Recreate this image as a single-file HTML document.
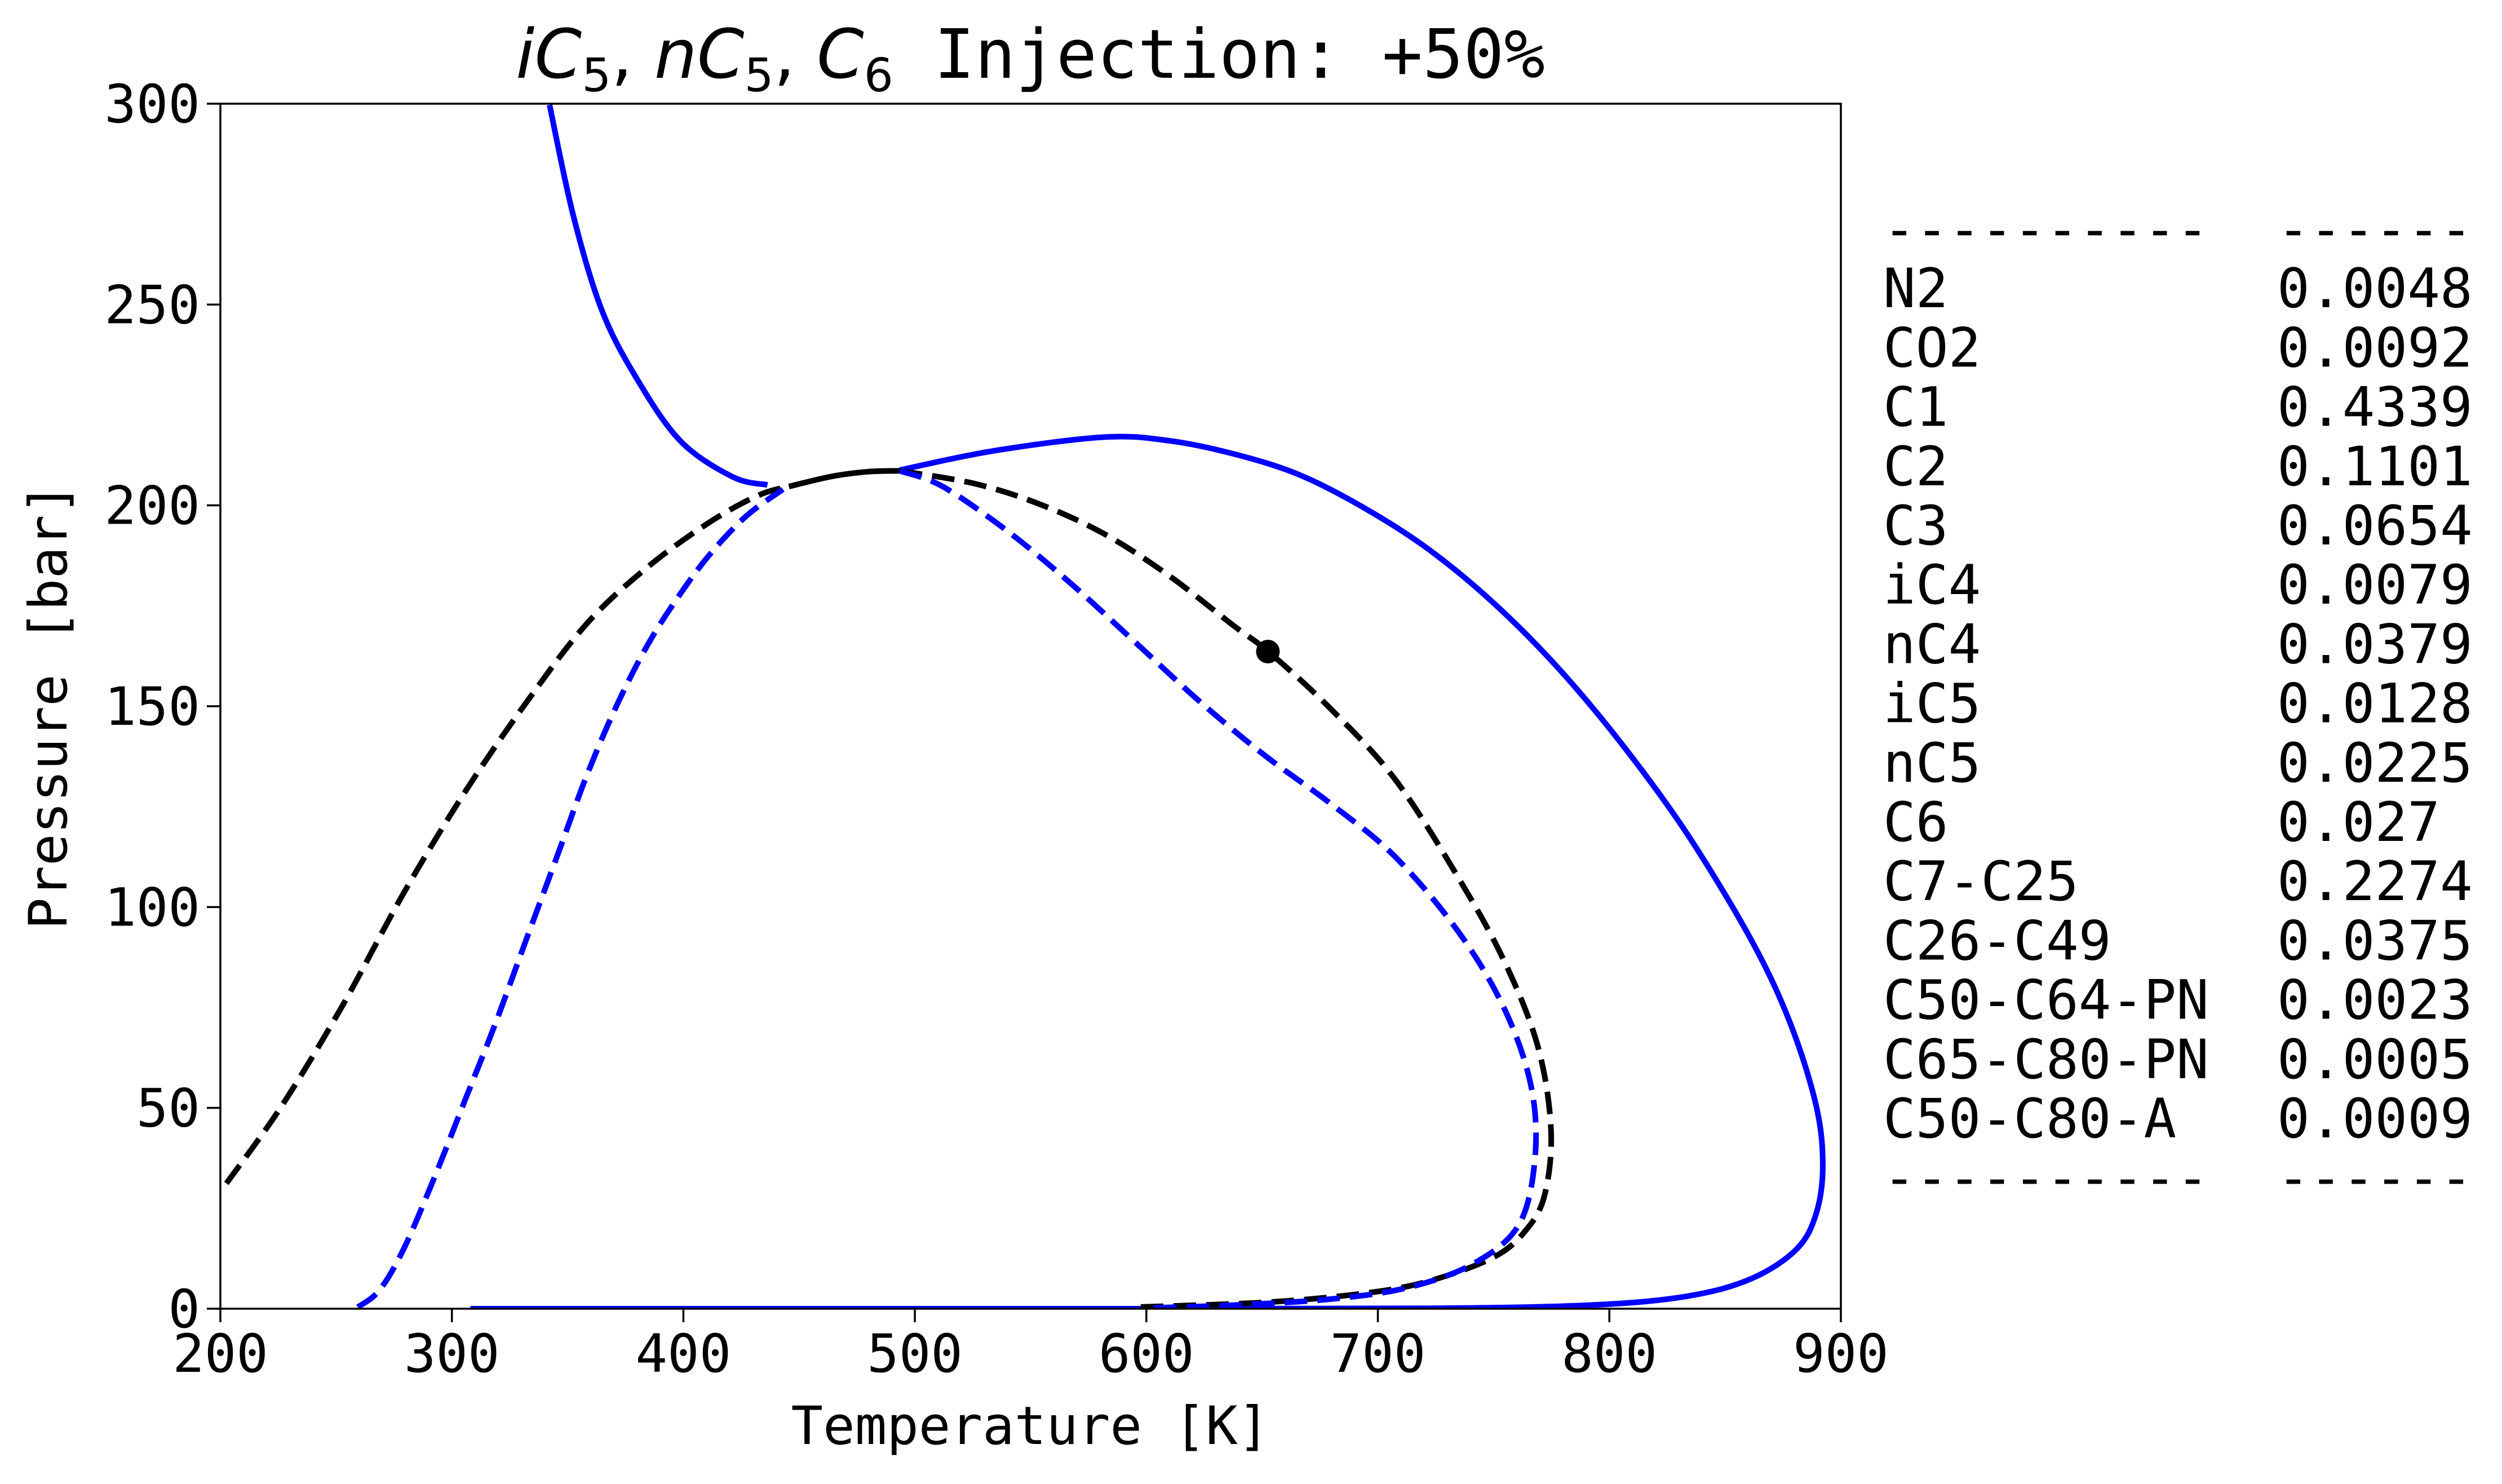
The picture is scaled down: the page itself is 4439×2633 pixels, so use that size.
<!DOCTYPE html>
<html><head><meta charset="utf-8"><style>
html,body{margin:0;padding:0;background:#fff;}
svg{display:block;}
text{font-family:"DejaVu Sans Mono","Liberation Mono",monospace;fill:#000;}
</style></head><body>
<svg id="chart" width="4439" height="2633" viewBox="0 0 4439 2633" xmlns="http://www.w3.org/2000/svg">
<g id="plot"></g>
<g id="axes"></g>
<text x="1828" y="138" font-size="120" text-anchor="middle"><tspan font-style="italic" font-family="DejaVu Sans, sans-serif">iC</tspan><tspan font-size="82" dy="24" font-family="DejaVu Sans, sans-serif">5</tspan><tspan dy="-24" font-family="DejaVu Sans, sans-serif">, </tspan><tspan font-style="italic" font-family="DejaVu Sans, sans-serif">nC</tspan><tspan font-size="82" dy="24" font-family="DejaVu Sans, sans-serif">5</tspan><tspan dy="-24" font-family="DejaVu Sans, sans-serif">, </tspan><tspan font-style="italic" font-family="DejaVu Sans, sans-serif">C</tspan><tspan font-size="82" dy="24" font-family="DejaVu Sans, sans-serif">6</tspan><tspan dy="-24"> Injection: +50%</tspan></text>
<text x="1828" y="2562" font-size="94" text-anchor="middle">Temperature [K]</text>
<text transform="translate(118,1253) rotate(-90)" font-size="94" text-anchor="middle">Pressure [bar]</text>
<g id="table"></g>
</svg>
<script>
const xTicks=[200,300,400,500,600,700,800,900];
const yTicks=[0,50,100,150,200,250,300];
const blueSolidUpperT=[342.2,352.3,364.5,379.1,398.6,421.3,436.3];
const blueSolidUpperP=[299.7,272.5,249,232.3,216.1,207.1,205.1];
const blueSolidMainT=[493.5,534.3,581.8,609.8,637.8,665.7,693.7,721.6,749.6,777.6,805.5,833.5,861.4,878.2,889.4,892.2,889.4,881,861.4,833.5,791.5,721.6,600,470,308];
const blueSolidMainP=[208.8,213.6,217,216.1,212.8,207.7,199.5,189.2,175.9,159.7,140.5,118.3,91.7,71,50.4,35.6,23.8,14.9,7.5,3.1,0.9,0.1,0,0,0];
const blackDashLeftT=[202.6,226.4,252.8,279.2,305.6,332,358.5,384.9,411.3,432.4,445.6];
const blackDashLeftP=[31.2,50.4,75.5,103.5,128.6,150.8,170.7,184.8,195.8,202.5,204.7];
const blackSolidTopT=[445.6,464,480,493.5];
const blackSolidTopP=[204.7,207.2,208.4,208.6];
const blackDashRightT=[493.5,525.9,553.9,581.8,609.8,637.8,653.1,679.7,707.7,735.6,755.2,769.2,774.8,772,763.6,749.6,721.6,693.7,651.7,595.8];
const blackDashRightP=[208.6,205.4,200.3,192.9,182.5,170,163.4,149.3,131.6,106.5,85.8,65.1,44.5,28.2,19.3,12.7,6.8,3.8,1.6,0.4];
const blueDashLeftT=[259.4,268.7,279.2,292.4,305.6,318.8,332,345.3,358.5,371.7,384.9,398,411.3,427.1,443];
const blueDashLeftP=[0.4,4.6,14.9,32.6,51.8,71,91.7,112.4,133.1,150.8,165.6,177.4,187.7,197.3,204];
const blueDashRightT=[493.5,512,540,567.9,595.8,623.8,651.7,679.7,707.7,735.6,755.2,766.4,767.8,760.8,741.2,713.2,679.7,637.8,601.4];
const blueDashRightP=[208.6,204.7,193.6,180.3,165.6,150.8,137.5,125.7,112.4,93.2,74,54.8,37,20.8,11.2,5.3,2.4,0.9,0.2];
const pointT=[652.5];const pointP=[163.6];
const compNames=["N2","CO2","C1","C2","C3","iC4","nC4","iC5","nC5","C6","C7-C25","C26-C49","C50-C64-PN","C65-C80-PN","C50-C80-A"];
const compValues=["0.0048","0.0092","0.4339","0.1101","0.0654","0.0079","0.0379","0.0128","0.0225","0.027","0.2274","0.0375","0.0023","0.0005","0.0009"];

const L=391,R=3266,T=184,B=2322;
const X=v=>L+(v-200)/700*(R-L);
const Y=v=>B-v/300*(B-T);
const NS="http://www.w3.org/2000/svg";
function mk(tag,attrs,parent){const e=document.createElementNS(NS,tag);for(const k in attrs)e.setAttribute(k,attrs[k]);parent.appendChild(e);return e;}
function path(ts,ps){const p=ts.map((t,i)=>[X(t),Y(ps[i])]);let d="M"+p[0][0]+","+p[0][1];
 for(let i=0;i<p.length-1;i++){const p0=p[i-1]||p[i],p1=p[i],p2=p[i+1],p3=p[i+2]||p2;
  d+=" C"+(p1[0]+(p2[0]-p0[0])/6)+","+(p1[1]+(p2[1]-p0[1])/6)+" "+(p2[0]-(p3[0]-p1[0])/6)+","+(p2[1]-(p3[1]-p1[1])/6)+" "+p2[0]+","+p2[1];}
 return d;}
const plot=document.getElementById('plot');
const cp=mk('clipPath',{id:'clip'},plot);
mk('rect',{x:L,y:T,width:R-L,height:B-T},cp);
const g=mk('g',{'clip-path':'url(#clip)'},plot);
const DASH='40 18';
let e;
e=mk('path',{d:path(blueSolidUpperT,blueSolidUpperP),fill:'none',stroke:'#0000ff','stroke-width':10},g);


e=mk('path',{d:path(blueSolidMainT,blueSolidMainP),fill:'none',stroke:'#0000ff','stroke-width':10},g);


e=mk('path',{d:path(blackDashLeftT,blackDashLeftP),fill:'none',stroke:'#000','stroke-width':10,'stroke-dasharray':DASH},g);


e=mk('path',{d:path(blackSolidTopT,blackSolidTopP),fill:'none',stroke:'#000','stroke-width':10},g);


e=mk('path',{d:path(blackDashRightT,blackDashRightP),fill:'none',stroke:'#000','stroke-width':10,'stroke-dasharray':DASH},g);


e=mk('path',{d:path(blueDashLeftT,blueDashLeftP),fill:'none',stroke:'#0000ff','stroke-width':10,'stroke-dasharray':DASH},g);


e=mk('path',{d:path(blueDashRightT,blueDashRightP),fill:'none',stroke:'#0000ff','stroke-width':10,'stroke-dasharray':DASH},g);


pointT.forEach((t,i)=>{const c=mk('circle',{cx:X(t),cy:Y(pointP[i]),r:21,fill:'#000'},g);

});
const ax=document.getElementById('axes');
mk('rect',{x:L,y:T,width:R-L,height:B-T,fill:'none',stroke:'#000','stroke-width':3.5},ax);
xTicks.forEach(v=>{mk('line',{x1:X(v),x2:X(v),y1:B,y2:B+24,stroke:'#000','stroke-width':3.5},ax);
 const t=mk('text',{x:X(v),y:B+112,'font-size':94,'text-anchor':'middle'},ax);t.textContent=v;
 
 });
yTicks.forEach(v=>{mk('line',{x1:L-24,x2:L,y1:Y(v),y2:Y(v),stroke:'#000','stroke-width':3.5},ax);
 const t=mk('text',{x:L-36,y:Y(v)+33,'font-size':94,'text-anchor':'end'},ax);t.textContent=v;
 
 });
const tb=document.getElementById('table');
const row0=440,step=105.2,cx1=3341,cx2=4040;
function tx(x,y,s,name){const t=mk('text',{x:x,y:y,'font-size':96},tb);t.textContent=s;
 
 }
tx(cx1,row0,"----------","table-rule-top");tx(cx2,row0,"------","table-rule-top");
compNames.forEach((n,i)=>{tx(cx1,row0+step*(i+1),n,"component-name");tx(cx2,row0+step*(i+1),compValues[i],"component-fraction");});
tx(cx1,row0+step*16,"----------","table-rule-bottom");tx(cx2,row0+step*16,"------","table-rule-bottom");
</script>
</body></html>
